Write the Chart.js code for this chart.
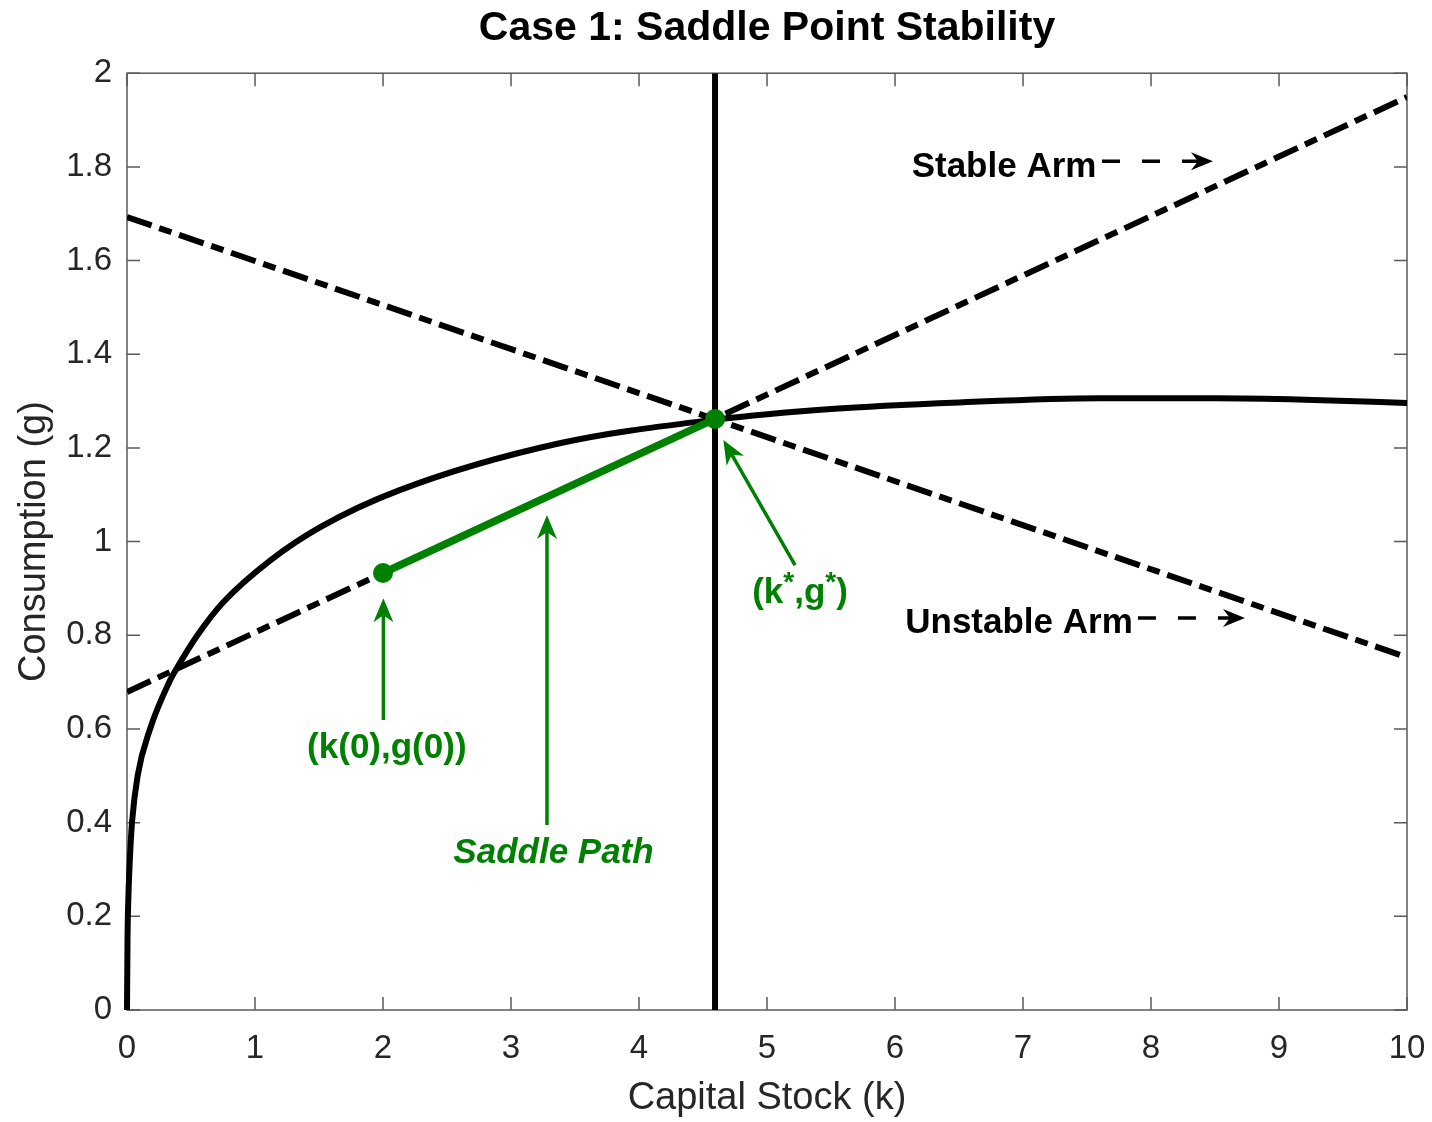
<!DOCTYPE html>
<html>
<head>
<meta charset="utf-8">
<script src="https://cdn.jsdelivr.net/npm/chart.js@4"></script>
<style>
  body { margin: 0; background: #fff; }
  #wrap { width: 1432px; height: 1122px; }
</style>
</head>
<body>
<div id="wrap"><canvas id="saddle-graph"></canvas></div>
<script>
// Capital stock grid and the g(k) curve
const kCurve = [0, 0.004, 0.012, 0.022, 0.039, 0.083, 0.18, 0.33, 0.39, 0.55, 0.75, 1.12, 1.51, 2.13, 3.38, 4.59, 5.5, 6.5, 7.6, 8.5, 9.2, 10];
const gCurve = [0, 0.15, 0.25, 0.32, 0.40, 0.50, 0.60, 0.70, 0.73, 0.80, 0.87, 0.96, 1.031, 1.11, 1.21, 1.26, 1.283, 1.297, 1.306, 1.306, 1.303, 1.296];

// steady state
const kStar = 4.594;
const gStar = 1.262;

// stable / unstable arms (end points at k = 0 and k = 10)
const stableK = [0, 10];
const stableG = [0.679, 1.949];
const unstableK = [0, 10];
const unstableG = [1.693, 0.753];

// saddle path from the starting point to the steady state
const pathK = [2.0, kStar];
const pathG = [0.933, gStar];

// axis ticks
const xTicks = [0, 1, 2, 3, 4, 5, 6, 7, 8, 9, 10];
const yTicks = [0, 0.2, 0.4, 0.6, 0.8, 1, 1.2, 1.4, 1.6, 1.8, 2];
const yTickLabels = ['0', '0.2', '0.4', '0.6', '0.8', '1', '1.2', '1.4', '1.6', '1.8', '2'];

const green = '#008000';
const font = '"Liberation Sans", Arial, Helvetica, sans-serif';

const toXY = (ks, gs) => ks.map((k, i) => ({ x: k, y: gs[i] }));

// annotation layout (data coordinates)
const notes = [
  { parts: [['(k(0),g(0))']], k: 2.03, g: 0.538, color: green, style: 'bold', align: 'center' },
  { parts: [['Saddle Path']], k: 3.332, g: 0.314, color: green, style: 'italic bold', align: 'center' },
  { parts: [['(k'], ['*', 'sup'], [',g'], ['*', 'sup'], [')']], k: 5.258, g: 0.869, color: green, style: 'bold', align: 'center' },
  { parts: [['Stable Arm']], k: 6.13, g: 1.778, color: '#000', style: 'bold', align: 'left' },
  { parts: [['Unstable Arm']], k: 6.08, g: 0.805, color: '#000', style: 'bold', align: 'left' }
];
const arrows = [
  { from: [2.003, 0.619], to: [2.003, 0.879], color: green, width: 3.5, head: [24, 10, 17], dash: [] },
  { from: [3.281, 0.395], to: [3.281, 1.057], color: green, width: 3.5, head: [24, 10, 17], dash: [] },
  { from: [5.219, 0.950], to: [4.659, 1.217], color: green, width: 3.5, head: [24, 10, 17], dash: [] },
  { from: [7.617, 1.812], to: [8.484, 1.812], color: '#000', width: 3.5, head: [22, 9, 15], dash: [18, 22] },
  { from: [7.898, 0.837], to: [8.734, 0.837], color: '#000', width: 3.5, head: [22, 9, 15], dash: [18, 22] }
];

// box with inward ticks on all four sides
const framePlugin = {
  id: 'frame',
  beforeDatasetsDraw(chart) {
    const { ctx, chartArea: a, scales } = chart;
    const len = 13;
    ctx.save();
    ctx.strokeStyle = '#5a5a5a';
    ctx.lineWidth = 1.5;
    ctx.strokeRect(a.left, a.top, a.right - a.left, a.bottom - a.top);
    ctx.beginPath();
    xTicks.forEach(v => {
      const px = scales.x.getPixelForValue(v);
      ctx.moveTo(px, a.bottom); ctx.lineTo(px, a.bottom - len);
      ctx.moveTo(px, a.top); ctx.lineTo(px, a.top + len);
    });
    yTicks.forEach(v => {
      const py = scales.y.getPixelForValue(v);
      ctx.moveTo(a.left, py); ctx.lineTo(a.left + len, py);
      ctx.moveTo(a.right, py); ctx.lineTo(a.right - len, py);
    });
    ctx.stroke();
    ctx.restore();
  }
};

function drawArrow(ctx, x1, y1, x2, y2, o) {
  const dx = x2 - x1, dy = y2 - y1;
  const d = Math.hypot(dx, dy);
  const ux = dx / d, uy = dy / d;
  const [L, W, N] = o.head;
  ctx.save();
  ctx.strokeStyle = o.color;
  ctx.fillStyle = o.color;
  ctx.lineWidth = o.width;
  ctx.setLineDash(o.dash);
  ctx.beginPath();
  ctx.moveTo(x1, y1);
  ctx.lineTo(x2 - ux * N, y2 - uy * N);
  ctx.stroke();
  ctx.setLineDash([]);
  ctx.beginPath();
  ctx.moveTo(x2, y2);
  ctx.lineTo(x2 - ux * L - uy * W, y2 - uy * L + ux * W);
  ctx.lineTo(x2 - ux * N, y2 - uy * N);
  ctx.lineTo(x2 - ux * L + uy * W, y2 - uy * L - ux * W);
  ctx.closePath();
  ctx.fill();
  ctx.restore();
}

const notesPlugin = {
  id: 'notes',
  afterDatasetsDraw(chart) {
    const { ctx, scales } = chart;
    arrows.forEach(a => {
      drawArrow(ctx,
        scales.x.getPixelForValue(a.from[0]), scales.y.getPixelForValue(a.from[1]),
        scales.x.getPixelForValue(a.to[0]), scales.y.getPixelForValue(a.to[1]), a);
    });
    notes.forEach(n => {
      ctx.save();
      ctx.fillStyle = n.color;
      ctx.textBaseline = 'alphabetic';
      ctx.textAlign = 'left';
      const fontFor = p => p[1] === 'sup' ? `bold 28px ${font}` : `${n.style} 35px ${font}`;
      let total = 0;
      n.parts.forEach(p => { ctx.font = fontFor(p); total += ctx.measureText(p[0]).width; });
      let x = scales.x.getPixelForValue(n.k);
      const y = scales.y.getPixelForValue(n.g);
      if (n.align === 'center') x -= total / 2;
      n.parts.forEach(p => {
        ctx.font = fontFor(p);
        ctx.fillText(p[0], x, p[1] === 'sup' ? y - 12 : y);
        x += ctx.measureText(p[0]).width;
      });
      ctx.restore();
    });
  }
};

const ctx = document.getElementById('saddle-graph');

new Chart(ctx, {
  type: 'scatter',
  data: {
    datasets: [
      {
        label: 'points',
        data: [{ x: pathK[0], y: pathG[0] }, { x: kStar, y: gStar }],
        showLine: false,
        pointRadius: 10,
        pointBackgroundColor: green,
        pointBorderWidth: 0
      },
      {
        label: 'saddle path',
        data: toXY(pathK, pathG),
        showLine: true,
        borderColor: green,
        borderWidth: 7.5,
        pointRadius: 0
      },
      {
        label: 'g(k)',
        data: toXY(kCurve, gCurve),
        showLine: true,
        borderColor: '#000',
        borderWidth: 6,
        pointRadius: 0,
        cubicInterpolationMode: 'monotone',
        clip: false
      },
      {
        label: 'k*',
        data: [{ x: kStar, y: 0 }, { x: kStar, y: 2 }],
        showLine: true,
        borderColor: '#000',
        borderWidth: 6,
        pointRadius: 0
      },
      {
        label: 'stable arm',
        data: toXY(stableK, stableG),
        showLine: true,
        borderColor: '#000',
        borderWidth: 6,
        borderDash: [26, 8, 13, 8],
        pointRadius: 0
      },
      {
        label: 'unstable arm',
        data: toXY(unstableK, unstableG),
        showLine: true,
        borderColor: '#000',
        borderWidth: 6,
        borderDash: [26, 8, 13, 8],
        pointRadius: 0
      }
    ]
  },
  options: {
    responsive: true,
    maintainAspectRatio: false,
    animation: false,
    layout: { padding: { top: 0, left: 0, right: 25, bottom: 0 } },
    plugins: {
      legend: { display: false },
      tooltip: { enabled: false },
      title: {
        display: true,
        fullSize: false,
        text: 'Case 1: Saddle Point Stability',
        color: '#000',
        font: { family: font, size: 41, weight: 'bold', lineHeight: 1.2 },
        padding: { top: 4, bottom: 20 }
      }
    },
    scales: {
      x: {
        type: 'linear',
        min: 0,
        max: 10,
        afterFit: s => { s.height = 112; s.paddingLeft = 0; s.paddingRight = 0; },
        afterBuildTicks: s => { s.ticks = xTicks.map(v => ({ value: v })); },
        ticks: { color: '#262626', font: { family: font, size: 33 }, padding: 19, maxRotation: 0 },
        grid: { display: false, drawTicks: false },
        border: { display: false },
        title: {
          display: true,
          text: 'Capital Stock (k)',
          color: '#262626',
          font: { family: font, size: 38, lineHeight: 1.2 },
          padding: { top: 0, bottom: 1 }
        }
      },
      y: {
        min: 0,
        max: 2,
        afterFit: s => { s.width = 127; },
        afterBuildTicks: s => { s.ticks = yTicks.map(v => ({ value: v })); },
        ticks: {
          color: '#262626',
          font: { family: font, size: 33 },
          padding: 15,
          callback: (v, i) => yTickLabels[i]
        },
        grid: { display: false, drawTicks: false },
        border: { display: false },
        title: {
          display: true,
          text: 'Consumption (g)',
          color: '#262626',
          font: { family: font, size: 38, lineHeight: 1.2 },
          padding: { top: 12, bottom: 1 }
        }
      }
    }
  },
  plugins: [framePlugin, notesPlugin]
});
</script>
</body>
</html>
